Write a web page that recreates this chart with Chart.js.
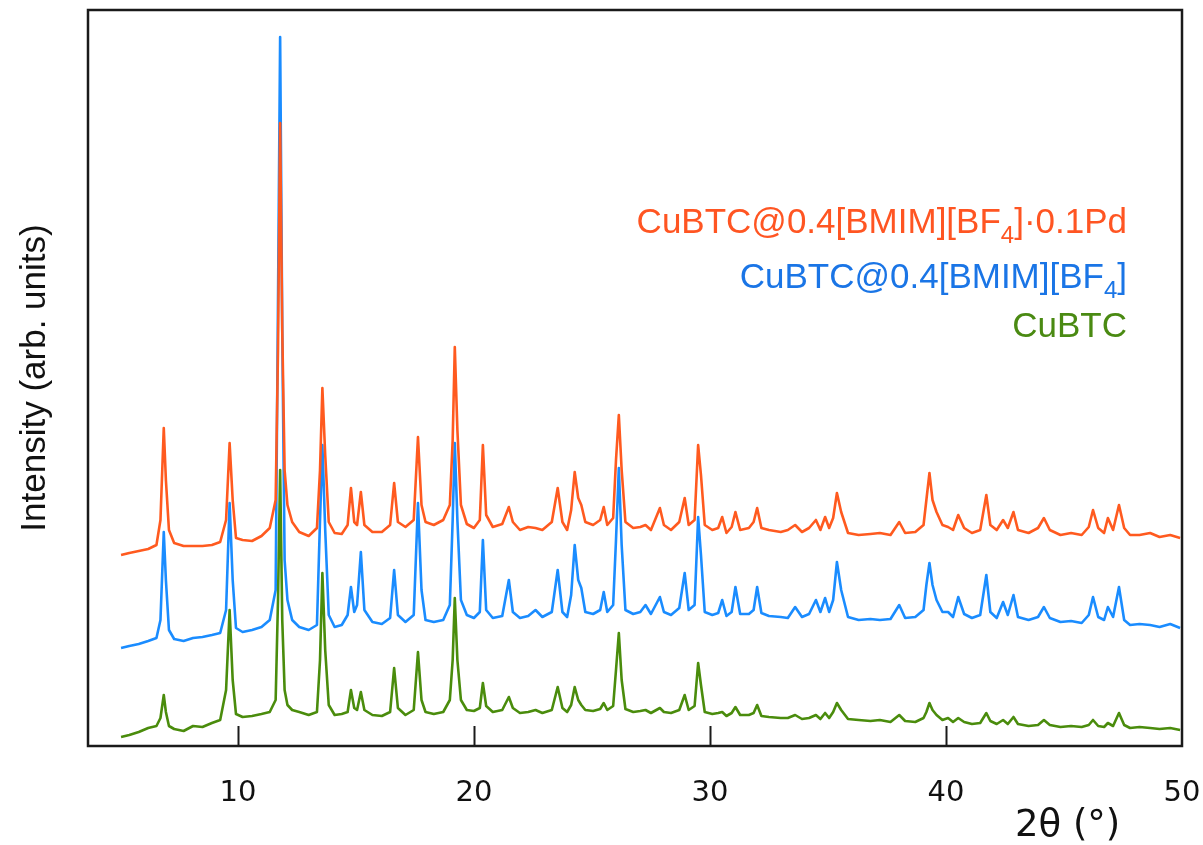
<!DOCTYPE html>
<html>
<head>
<meta charset="utf-8">
<script src="https://cdn.jsdelivr.net/npm/chart.js@4.4.0/dist/chart.umd.min.js"></script>
<style>
  body { margin: 0; background: #fff; }
  #wrap { width: 1203px; height: 845px; position: relative; }
</style>
</head>
<body>
<div id="wrap"><canvas id="xrd"></canvas></div>
<script>
// 2theta grid (deg) shared by the three patterns
const twoTheta = [
  5.05,5.40,5.80,6.20,6.55,6.72,6.86,6.95,7.08,7.30,
  7.70,8.10,8.50,8.90,9.25,9.50,9.65,9.78,9.92,10.20,
  10.60,11.00,11.35,11.60,11.70,11.79,11.88,11.98,12.10,12.30,
  12.60,13.00,13.35,13.48,13.58,13.70,13.85,14.10,14.40,14.65,
  14.79,14.93,15.05,15.21,15.36,15.70,16.10,16.45,16.62,16.78,
  17.10,17.45,17.63,17.78,17.95,18.30,18.70,18.98,19.10,19.19,
  19.30,19.45,19.70,20.00,20.25,20.38,20.52,20.80,21.20,21.48,
  21.65,21.95,22.30,22.61,22.90,23.30,23.55,23.75,23.95,24.12,
  24.27,24.42,24.55,24.72,25.05,25.35,25.50,25.65,25.90,26.02,
  26.14,26.26,26.42,26.75,27.05,27.27,27.50,27.88,28.05,28.35,
  28.70,28.93,29.10,29.35,29.50,29.62,29.78,30.10,30.35,30.52,
  30.70,30.92,31.08,31.28,31.65,31.85,32.00,32.18,32.50,33.00,
  33.30,33.61,33.90,34.20,34.49,34.68,34.88,35.05,35.22,35.38,
  35.56,35.85,36.30,36.80,37.20,37.65,38.02,38.27,38.70,39.05,
  39.17,39.30,39.43,39.60,39.85,40.09,40.30,40.52,40.77,41.10,
  41.45,41.71,41.88,42.15,42.42,42.62,42.86,43.05,43.50,43.90,
  44.15,44.40,44.85,45.30,45.75,46.05,46.23,46.45,46.70,46.86,
  47.08,47.33,47.55,47.80,48.20,48.65,49.05,49.50,49.92
];

// CuBTC@0.4[BMIM][BF4]·0.1Pd (offset pattern, arb. units)
const cubtcILPd = [
  191,193,195,197,201,226,318,266,216,203,
  200,200,200,201,204,226,303,246,208,206,
  205,210,218,246,396,623,416,276,241,224,
  214,210,218,276,358,291,224,213,212,221,
  258,224,221,254,221,214,214,221,263,224,
  219,226,309,241,224,221,226,241,306,399,
  316,241,222,218,226,301,231,219,222,239,
  224,216,219,218,216,224,258,224,216,236,
  274,248,241,224,221,226,239,221,228,286,
  331,276,224,218,219,221,216,238,221,216,
  224,248,221,226,301,271,221,216,218,229,
  213,219,234,216,218,224,238,218,216,214,
  216,221,214,218,226,216,229,218,228,253,
  234,213,211,212,213,211,224,213,214,221,
  246,273,246,234,221,219,216,231,218,213,
  216,251,221,216,226,218,234,216,213,218,
  228,216,211,213,211,219,236,218,213,228,
  216,241,218,211,211,213,209,211,208
];

// CuBTC@0.4[BMIM][BF4]
const cubtcIL = [
  98,100,102,105,108,126,214,166,116,107,
  105,108,109,111,113,136,243,166,118,114,
  116,119,126,156,446,709,416,186,146,126,
  119,116,121,226,301,216,131,119,121,131,
  159,134,141,194,136,124,122,128,176,131,
  124,131,243,156,126,124,126,141,226,303,
  226,146,131,128,134,206,136,128,130,166,
  134,128,130,136,129,134,176,134,129,151,
  201,166,158,134,132,136,154,134,141,206,
  278,201,136,132,134,141,132,149,134,131,
  138,173,136,141,229,191,134,131,133,146,
  130,134,159,132,132,136,159,133,130,129,
  128,139,129,132,146,134,148,134,146,184,
  156,129,126,127,126,127,141,128,129,136,
  161,183,161,146,134,134,129,149,132,128,
  131,171,134,128,144,131,151,129,126,129,
  139,128,124,125,123,131,149,129,126,139,
  129,159,126,121,122,121,119,122,118
];

// CuBTC
const cubtc = [
  9,11,14,18,20,28,51,34,20,17,
  15,20,19,23,26,56,136,66,32,29,
  30,32,34,46,146,276,126,56,41,36,
  34,31,34,86,173,96,41,31,32,34,
  56,38,36,54,36,31,30,34,78,38,
  31,36,94,46,34,32,34,46,86,148,
  86,46,36,35,38,63,40,34,36,49,
  38,33,34,36,33,36,59,38,34,41,
  59,46,41,36,35,37,43,36,40,76,
  113,66,37,34,35,36,33,38,34,33,
  36,51,36,40,83,61,34,32,33,34,
  30,33,39,31,31,33,41,30,29,28,
  28,31,27,28,31,27,33,28,34,43,
  36,27,26,25,26,24,31,25,24,28,
  34,43,36,31,26,28,24,28,24,22,
  23,33,25,22,26,22,29,22,20,21,
  26,21,19,20,19,21,26,20,19,23,
  20,33,21,18,19,18,17,18,16
];

const xTicks = [10, 20, 30, 40, 50];

const orange = '#ff5a1f';
const blue = '#1a8cff';
const green = '#4a8c0c';

function pts(ys) {
  return twoTheta.map((x, i) => ({ x: x, y: ys[i] }));
}

// frame, inward ticks, titles and sample labels
const decor = {
  id: 'decor',
  afterDraw(chart) {
    const ctx = chart.ctx;
    const a = chart.chartArea;
    const xs = chart.scales.x;
    ctx.save();
    ctx.strokeStyle = '#1a1a1a';
    ctx.lineWidth = 2.5;
    ctx.strokeRect(a.left, a.top, a.right - a.left, a.bottom - a.top);
    ctx.lineWidth = 2;
    xTicks.slice(0, 4).forEach(v => {
      const px = Math.round(xs.getPixelForValue(v)) + 0.5;
      ctx.beginPath();
      ctx.moveTo(px, a.bottom);
      ctx.lineTo(px, a.bottom - 20);
      ctx.stroke();
    });

    // axis titles
    ctx.fillStyle = '#111';
    ctx.font = '37px "DejaVu Sans"';
    ctx.textAlign = 'left';
    ctx.textBaseline = 'alphabetic';
    ctx.fillText('2\u03B8 (\u00B0)', 1015, 836);

    ctx.save();
    ctx.translate(45, 378);
    ctx.rotate(-Math.PI / 2);
    ctx.textAlign = 'center';
    ctx.font = '35px "Liberation Sans", Arial';
    ctx.fillText('Intensity (arb. units)', 0, 0);
    ctx.restore();

    // sample labels, right aligned
    drawLabel(ctx, [['CuBTC@0.4[BMIM][BF'], ['4', 1], [']\u00B70.1Pd']], 1127, 233, '#ff5522');
    drawLabel(ctx, [['CuBTC@0.4[BMIM][BF'], ['4', 1], [']']], 1127, 288, '#1a75e6');
    drawLabel(ctx, [['CuBTC']], 1127, 337, '#4a8a12');
    ctx.restore();
  }
};

function drawLabel(ctx, parts, right, base, color) {
  const big = '35px "Liberation Sans", Arial';
  const small = '24px "Liberation Sans", Arial';
  let w = 0;
  parts.forEach(p => { ctx.font = p[1] ? small : big; w += ctx.measureText(p[0]).width; });
  let x = right - w;
  ctx.fillStyle = color;
  ctx.textAlign = 'left';
  ctx.textBaseline = 'alphabetic';
  parts.forEach(p => {
    ctx.font = p[1] ? small : big;
    ctx.fillText(p[0], x, p[1] ? base + 10 : base);
    x += ctx.measureText(p[0]).width;
  });
}

new Chart(document.getElementById('xrd'), {
  type: 'line',
  data: {
    datasets: [
      { label: 'CuBTC@0.4[BMIM][BF4]·0.1Pd', data: pts(cubtcILPd), borderColor: orange, order: 0 },
      { label: 'CuBTC', data: pts(cubtc), borderColor: green, order: 1 },
      { label: 'CuBTC@0.4[BMIM][BF4]', data: pts(cubtcIL), borderColor: blue, order: 2 }
    ]
  },
  options: {
    responsive: true,
    maintainAspectRatio: false,
    animation: false,
    datasets: {
      line: { borderWidth: 2.6, pointRadius: 0, tension: 0, fill: false, borderJoinStyle: 'round' }
    },
    layout: { padding: { left: 88, right: 21, top: 10, bottom: 0 } },
    plugins: { legend: { display: false }, tooltip: { enabled: false } },
    scales: {
      x: {
        type: 'linear',
        min: 3.65,
        max: 50,
        grid: { display: false },
        border: { display: false },
        afterFit: (s) => { s.height = 99; s.paddingLeft = 0; s.paddingRight = 0; },
        afterBuildTicks: (s) => { s.ticks = xTicks.map(v => ({ value: v })); },
        ticks: {
          padding: 22,
          color: '#111',
          font: { family: 'DejaVu Sans', size: 29 },
          maxRotation: 0,
          autoSkip: false
        }
      },
      y: { display: false, min: 0, max: 736 }
    }
  },
  plugins: [decor]
});
</script>
</body>
</html>
